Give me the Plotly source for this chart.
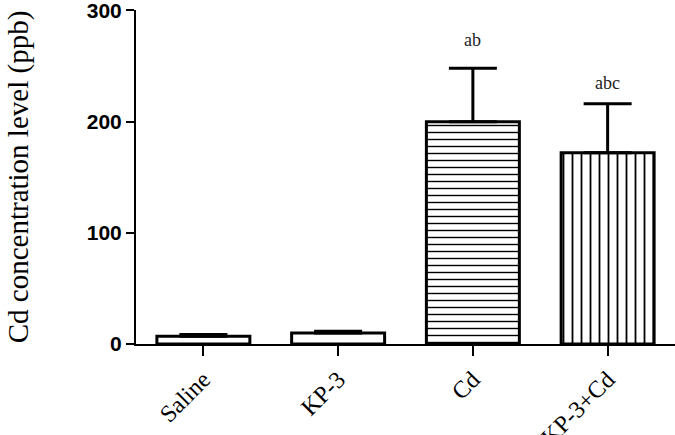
import plotly.graph_objects as go

categories = ["Saline", "KP-3", "Cd", "KP-3+Cd"]
values = [7, 10, 200, 172]
errors = [1.5, 1.5, 48, 44]
patterns = ["", "", "-", "|"]
pattern_sizes = [8, 8, 7, 9]
letters = ["", "", "ab", "abc"]
letter_y = [None, None, 273, 235]
y_ticks = [0, 100, 200, 300]

fig = go.Figure()
fig.add_trace(go.Bar(
    x=categories,
    y=values,
    width=0.69,
    marker=dict(
        color="white",
        line=dict(color="black", width=3),
        pattern=dict(shape=patterns, size=pattern_sizes, solidity=0.2,
                     fgcolor="black", bgcolor="white", fillmode="replace"),
    ),
    error_y=dict(type="data", array=errors, arrayminus=[0] * len(errors),
                 symmetric=False, color="black", thickness=3, width=24),
    showlegend=False,
))

for c, t, yy in zip(categories, letters, letter_y):
    if t:
        fig.add_annotation(x=c, y=yy, text=t, showarrow=False,
                           font=dict(family="Liberation Serif", size=18, color="#222"))

fig.update_layout(
    width=675, height=435,
    margin=dict(l=136, r=0, t=10, b=91),
    plot_bgcolor="white", paper_bgcolor="white",
    bargap=0.31,
)
fig.update_xaxes(
    range=[-0.5, 3.5], showline=True, linecolor="black", linewidth=2,
    ticks="outside", ticklen=10, tickwidth=2, tickcolor="black",
    tickangle=-45, showgrid=False, zeroline=False, automargin=False,
    ticklabeloverflow="allow",
    tickfont=dict(family="Liberation Serif", size=24, color="black"),
)
fig.update_yaxes(
    range=[0, 300.4], tickvals=y_ticks, showline=True, linecolor="black", linewidth=2,
    ticks="outside", ticklen=8, tickwidth=2, tickcolor="black",
    showgrid=False, zeroline=False, automargin=False,
    ticklabeloverflow="allow",
    tickfont=dict(family="Liberation Sans", size=21, color="black", weight="bold"),
    title=dict(text="Cd concentration level (ppb)", standoff=50,
               font=dict(family="Liberation Serif", size=29, color="black")),
)

fig.write_html("out.html")
